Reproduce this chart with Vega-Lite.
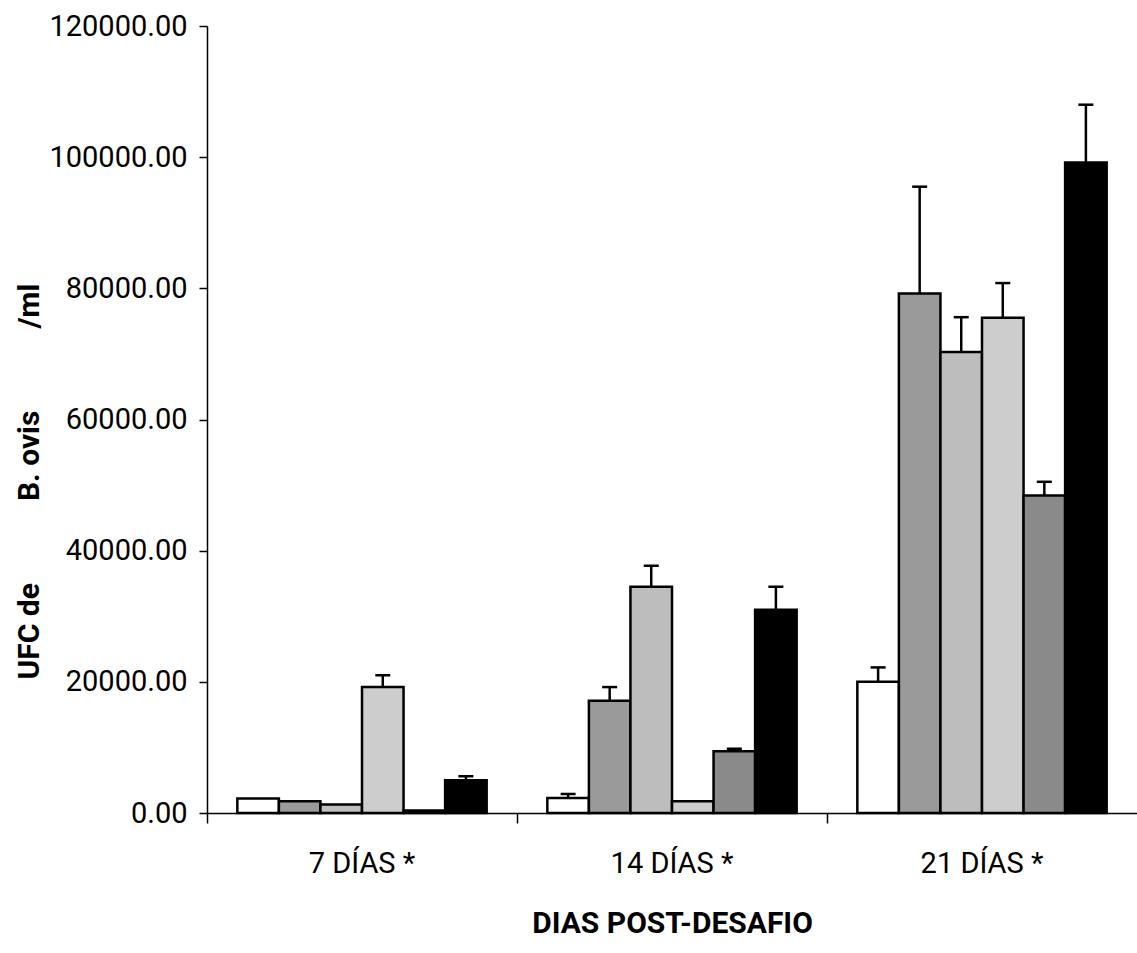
{
  "$schema": "https://vega.github.io/schema/vega-lite/v6.json",
  "width": 930,
  "height": 787,
  "autosize": {"type": "none"},
  "padding": {"left": 207, "top": 26, "right": 0, "bottom": 140},
  "background": "white",
  "config": {"view": {"stroke": null}, "font": "Roboto, sans-serif"},
  "data": {
    "values": [
      {"dia": "7 DÍAS *", "grupo": "G1", "valor": 2200, "sup": null},
      {"dia": "7 DÍAS *", "grupo": "G2", "valor": 1800, "sup": null},
      {"dia": "7 DÍAS *", "grupo": "G3", "valor": 1300, "sup": null},
      {"dia": "7 DÍAS *", "grupo": "G4", "valor": 19200, "sup": 21000},
      {"dia": "7 DÍAS *", "grupo": "G5", "valor": 400, "sup": null},
      {"dia": "7 DÍAS *", "grupo": "G6", "valor": 5000, "sup": 5600},
      {"dia": "14 DÍAS *", "grupo": "G1", "valor": 2300, "sup": 2900},
      {"dia": "14 DÍAS *", "grupo": "G2", "valor": 17100, "sup": 19200},
      {"dia": "14 DÍAS *", "grupo": "G3", "valor": 34500, "sup": 37700},
      {"dia": "14 DÍAS *", "grupo": "G4", "valor": 1800, "sup": null},
      {"dia": "14 DÍAS *", "grupo": "G5", "valor": 9400, "sup": 9800},
      {"dia": "14 DÍAS *", "grupo": "G6", "valor": 31000, "sup": 34500},
      {"dia": "21 DÍAS *", "grupo": "G1", "valor": 20000, "sup": 22200},
      {"dia": "21 DÍAS *", "grupo": "G2", "valor": 79200, "sup": 95500},
      {"dia": "21 DÍAS *", "grupo": "G3", "valor": 70300, "sup": 75600},
      {"dia": "21 DÍAS *", "grupo": "G4", "valor": 75500, "sup": 80800},
      {"dia": "21 DÍAS *", "grupo": "G5", "valor": 48400, "sup": 50500},
      {"dia": "21 DÍAS *", "grupo": "G6", "valor": 99200, "sup": 108000}
    ]
  },
  "encoding": {
    "x": {
      "field": "dia",
      "type": "nominal",
      "sort": ["7 DÍAS *", "14 DÍAS *", "21 DÍAS *"],
      "scale": {"paddingInner": 0, "paddingOuter": 0},
      "title": "DIAS POST-DESAFIO",
      "axis": {
        "bandPosition": 0,
        "labelAngle": 0,
        "labelFontSize": 29,
        "labelColor": "black",
        "labelPadding": 26,
        "tickSize": 10,
        "tickColor": "black",
        "tickWidth": 1.5,
        "domainColor": "black",
        "domainWidth": 1.5,
        "titleFontSize": 30,
        "titleFontWeight": "bold",
        "titleColor": "black",
        "titlePadding": 30
      }
    },
    "xOffset": {
      "field": "grupo",
      "type": "nominal",
      "scale": {"paddingInner": 0, "paddingOuter": 0.73}
    }
  },
  "layer": [
    {
      "mark": {"type": "bar", "stroke": "black", "strokeWidth": 2.5},
      "encoding": {
        "y": {
          "field": "valor",
          "type": "quantitative",
          "scale": {"domain": [0, 120000], "nice": false},
          "title": "UFC de\u00a0\u00a0\u00a0\u00a0\u00a0\u00a0\u00a0\u00a0\u00a0\u00a0\u00a0B. ovis\u00a0\u00a0\u00a0\u00a0\u00a0\u00a0\u00a0\u00a0\u00a0\u00a0\u00a0/ml",
          "axis": {
            "values": [0, 20000, 40000, 60000, 80000, 100000, 120000],
            "format": ".2f",
            "grid": false,
            "labelFontSize": 29,
            "labelColor": "black",
            "labelPadding": 12,
            "tickSize": 8,
            "tickColor": "black",
            "tickWidth": 1.5,
            "domainColor": "black",
            "domainWidth": 1.5,
            "titleFontSize": 30,
            "titleFontWeight": "bold",
            "titleColor": "black",
            "titlePadding": 4,
            "titleY": 455
          }
        },
        "fill": {
          "field": "grupo",
          "type": "nominal",
          "scale": {"range": ["#ffffff", "#9a9a9a", "#bdbdbd", "#cdcdcd", "#8a8a8a", "#000000"]},
          "legend": null
        }
      }
    },
    {
      "transform": [{"filter": "datum.sup != null"}],
      "mark": {"type": "rule", "strokeWidth": 2.5, "color": "black"},
      "encoding": {
        "y": {"field": "valor", "type": "quantitative"},
        "y2": {"field": "sup"}
      }
    },
    {
      "transform": [{"filter": "datum.sup != null"}],
      "mark": {"type": "tick", "thickness": 2.5, "size": 15, "color": "black", "opacity": 1},
      "encoding": {
        "y": {"field": "sup", "type": "quantitative"}
      }
    }
  ]
}
